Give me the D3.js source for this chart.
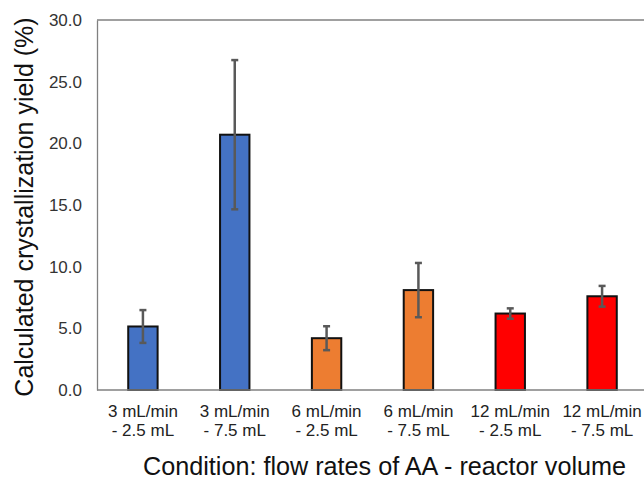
<!DOCTYPE html>
<html>
<head>
<meta charset="utf-8">
<script src="https://cdn.jsdelivr.net/npm/d3@7"></script>
<style>
  body { margin: 0; background: #fff; }
  svg { display: block; font-family: "Liberation Sans", Arial, sans-serif; }
</style>
</head>
<body>
<svg id="chart" width="644" height="482"></svg>
<script>
// values
var conditions = ['3 mL/min - 2.5 mL', '3 mL/min - 7.5 mL', '6 mL/min - 2.5 mL',
                  '6 mL/min - 7.5 mL', '12 mL/min - 2.5 mL', '12 mL/min - 7.5 mL'];
var labelLines = [['3 mL/min', '- 2.5 mL'], ['3 mL/min', '- 7.5 mL'], ['6 mL/min', '- 2.5 mL'],
                  ['6 mL/min', '- 7.5 mL'], ['12 mL/min', '- 2.5 mL'], ['12 mL/min', '- 7.5 mL']];
var yields = [5.15, 20.7, 4.2, 8.1, 6.2, 7.6];
var errors = [1.33, 6.05, 0.97, 2.2, 0.42, 0.84];
var barColors = ['#4472C4', '#4472C4', '#ED7D31', '#ED7D31', '#FF0000', '#FF0000'];
var yTicks = [0, 5, 10, 15, 20, 25, 30];

var svg = d3.select('#chart');
var plotL = 97, plotR = 648, plotT = 20, plotB = 390;

var x = d3.scaleBand()
          .domain(conditions)
          .range([plotL, plotR])
          .paddingInner(0.68)
          .paddingOuter(0.34);

var y = d3.scaleLinear()
          .domain([0, 30])
          .range([plotB, plotT]);

// top frame line
svg.append('line')
   .attr('x1', plotL).attr('x2', 644)
   .attr('y1', plotT).attr('y2', plotT)
   .attr('stroke', '#808080').attr('stroke-width', 1.3);

var yAxis = d3.axisLeft(y).tickValues(yTicks).tickSize(0).tickPadding(15)
              .tickFormat(d3.format('.1f'));
var gy = svg.append('g').attr('transform', 'translate(' + plotL + ',0)').call(yAxis);
gy.select('.domain').attr('stroke', '#808080').attr('stroke-width', 1.3);
gy.selectAll('text').attr('font-size', 17).attr('fill', '#333')
  .attr('font-family', '"Liberation Sans", Arial, sans-serif');

// bars
svg.selectAll('rect.bar')
   .data(conditions)
   .enter()
   .append('rect')
   .attr('class', 'bar')
   .attr('x', function(d) { return x(d); })
   .attr('width', x.bandwidth())
   .attr('y', function(d, i) { return y(yields[i]); })
   .attr('height', function(d, i) { return plotB - y(yields[i]); })
   .attr('fill', function(d, i) { return barColors[i]; })
   .attr('stroke', '#111')
   .attr('stroke-width', 2);

// x axis line drawn over bar bottoms
svg.append('line')
   .attr('x1', plotL).attr('x2', 644)
   .attr('y1', plotB).attr('y2', plotB)
   .attr('stroke', '#808080').attr('stroke-width', 1.3);

// error bars
var err = svg.append('g').attr('stroke', '#595959').attr('stroke-width', 2.5);
conditions.forEach(function(d, i) {
    var cx = x(d) + x.bandwidth() / 2;
    var hi = y(yields[i] + errors[i]), lo = y(yields[i] - errors[i]);
    err.append('line').attr('x1', cx).attr('x2', cx).attr('y1', hi).attr('y2', lo);
    err.append('line').attr('x1', cx - 3.5).attr('x2', cx + 3.5).attr('y1', hi).attr('y2', hi);
    err.append('line').attr('x1', cx - 3.5).attr('x2', cx + 3.5).attr('y1', lo).attr('y2', lo);
});

// category labels (two lines each)
var cat = svg.append('g').attr('font-size', 17).attr('fill', '#222').attr('text-anchor', 'middle');
conditions.forEach(function(d, i) {
    var cx = x(d) + x.bandwidth() / 2;
    var t = cat.append('text').attr('x', cx).attr('y', 417);
    t.append('tspan').attr('x', cx).attr('dy', 0).text(labelLines[i][0]);
    t.append('tspan').attr('x', cx).attr('dy', 18.5).text(labelLines[i][1]);
});

// axis titles
svg.append('text')
   .attr('transform', 'translate(33,' + ((plotT + plotB) / 2 + 2) + ') rotate(-90)')
   .attr('text-anchor', 'middle')
   .attr('font-size', 25)
   .attr('fill', '#111')
   .text('Calculated crystallization yield (%)');

svg.append('text')
   .attr('x', 143).attr('y', 475)
   .attr('font-size', 25.2)
   .attr('fill', '#111')
   .text('Condition: flow rates of AA - reactor volume');
</script>
</body>
</html>
